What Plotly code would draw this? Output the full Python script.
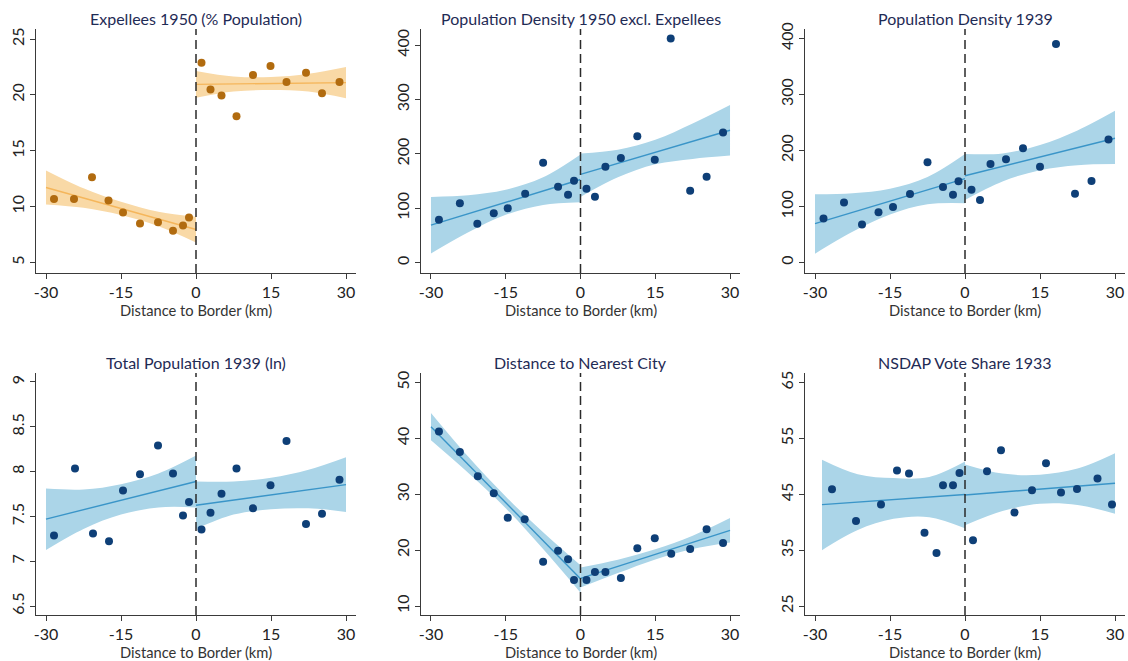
import plotly.graph_objects as go

W, H = 1128, 661

# ---------------- data ----------------
titles = ["Expellees 1950 (% Population)", "Population Density 1950 excl. Expellees",
          "Population Density 1939", "Total Population 1939 (ln)",
          "Distance to Nearest City", "NSDAP Vote Share 1933"]
x_title = "Distance to Border (km)"
x_ticks = [-30, -15, 0, 15, 30]
x_ticklabels = ["-30", "-15", "0", "15", "30"]

# Panel 1: Expellees 1950
p1_x = [-28.4, -24.4, -20.8, -17.5, -14.6, -11.2, -7.6, -4.6, -2.6, -1.4,
        1.1, 2.9, 5.1, 8.1, 11.4, 14.9, 18.1, 22.0, 25.2, 28.7]
p1_y = [10.7, 10.7, 12.64, 10.55, 9.48, 8.49, 8.61, 7.84, 8.31, 9.03,
        22.88, 20.49, 19.96, 18.1, 21.78, 22.6, 21.15, 21.99, 20.16, 21.15]
p1_band_xl = [-30, -22.5, -15, -7.5, 0]
p1_band_xr = [0, 7.5, 15, 22.5, 30]
p1_fit_l = [11.72, 7.96]
p1_fit_r = [20.95, 21.1]
p1_up_l = [13.25, 11.65, 10.45, 9.55, 9.1]
p1_lo_l = [10.2, 9.9, 9.25, 8.25, 6.8]
p1_up_r = [22.15, 21.65, 21.6, 21.9, 22.5]
p1_lo_r = [19.75, 20.3, 20.45, 20.3, 19.7]
p1_yticks = [5, 10, 15, 20, 25]

# Panel 2: Population density 1950 excl. expellees
p2_x = [-28.4, -24.2, -20.7, -17.4, -14.6, -11.1, -7.5, -4.5, -2.5, -1.3,
        1.2, 2.9, 5.0, 8.1, 11.4, 14.9, 18.1, 22.0, 25.3, 28.6]
p2_y = [78.8, 109.5, 71.4, 91.0, 100.3, 126.8, 184.0, 139.7, 124.9, 150.8,
        136.0, 121.2, 176.6, 192.6, 232.6, 189.5, 412.3, 132.3, 158.2, 239.4]
p2_band_xl = [-30, -22.5, -15, -7.5, 0]
p2_band_xr = [0, 7.5, 15, 22.5, 30]
p2_fit_l = [69.0, 153.0]
p2_fit_r = [162.5, 243.7]
p2_up_l = [121.0, 124.0, 134.0, 157.0, 199.0]
p2_lo_l = [17.0, 56.0, 88.0, 106.0, 111.0]
p2_up_r = [201.0, 208.0, 226.0, 256.0, 290.0]
p2_lo_r = [121.0, 157.0, 181.0, 191.0, 197.0]
p2_yticks = [0, 100, 200, 300, 400]

# Panel 3: Population density 1939
p3_x = [-28.3, -24.2, -20.6, -17.3, -14.4, -11.0, -7.5, -4.4, -2.4, -1.3,
        1.3, 3.0, 5.1, 8.2, 11.6, 15.0, 18.2, 22.0, 25.3, 28.7]
p3_y = [78.8, 107.5, 68.1, 90.1, 99.1, 122.4, 179.1, 134.9, 121.2, 145.1,
        130.1, 111.6, 176.1, 184.5, 204.2, 171.3, 390.4, 123.0, 145.7, 219.7]
p3_band_xl = [-30, -22.5, -15, -7.5, 0]
p3_band_xr = [0, 7.5, 15, 22.5, 30]
p3_fit_l = [69.5, 150.0]
p3_fit_r = [155.0, 222.0]
p3_up_l = [122.0, 124.0, 132.0, 153.0, 194.0]
p3_lo_l = [16.0, 55.0, 86.0, 104.0, 106.0]
p3_up_r = [194.0, 195.0, 210.0, 236.0, 271.0]
p3_lo_r = [112.0, 145.0, 165.0, 174.0, 176.0]
p3_yticks = [0, 100, 200, 300, 400]

# Panel 4: Total population 1939 (ln)
p4_x = [-28.4, -24.2, -20.6, -17.4, -14.6, -11.2, -7.6, -4.6, -2.6, -1.4,
        1.1, 2.9, 5.1, 8.1, 11.4, 14.9, 18.1, 22.0, 25.2, 28.7]
p4_y = [7.287, 8.034, 7.31, 7.224, 7.79, 7.97, 8.29, 7.98, 7.51, 7.66,
        7.355, 7.54, 7.754, 8.034, 7.59, 7.847, 8.34, 7.414, 7.53, 7.91]
p4_band_xl = [-30, -22.5, -15, -7.5, 0]
p4_band_xr = [0, 7.5, 15, 22.5, 30]
p4_fit_l = [7.47, 7.89]
p4_fit_r = [7.625, 7.855]
p4_up_l = [7.81, 7.80, 7.86, 7.98, 8.18]
p4_lo_l = [7.125, 7.36, 7.52, 7.6, 7.6]
p4_up_r = [7.89, 7.89, 7.93, 8.02, 8.16]
p4_lo_r = [7.36, 7.52, 7.58, 7.59, 7.55]
p4_yticks = [6.5, 7, 7.5, 8, 8.5, 9]
p4_yticklabels = ["6.5", "7", "7.5", "8", "8.5", "9"]

# Panel 5: Distance to nearest city
p5_x = [-28.4, -24.2, -20.6, -17.4, -14.6, -11.2, -7.5, -4.5, -2.5, -1.3,
        1.2, 2.9, 5.0, 8.1, 11.4, 14.9, 18.2, 22.0, 25.3, 28.6]
p5_y = [41.22, 37.58, 33.22, 30.18, 25.82, 25.52, 17.94, 19.91, 18.36, 14.66,
        14.66, 16.09, 16.09, 15.01, 20.33, 22.12, 19.37, 20.21, 23.73, 21.28]
p5_band_xl = [-30, -22.5, -15, -7.5, 0]
p5_band_xr = [0, 7.5, 15, 22.5, 30]
p5_fit_l = [42.1, 14.9]
p5_fit_r = [14.95, 23.55]
p5_up_l = [44.55, 36.7, 29.6, 23.2, 17.3]
p5_lo_l = [39.65, 33.8, 27.5, 20.2, 12.4]
p5_up_r = [16.9, 18.3, 20.15, 22.6, 25.75]
p5_lo_r = [13.3, 15.9, 18.35, 20.2, 21.35]
p5_yticks = [10, 20, 30, 40, 50]

# Panel 6: NSDAP vote share 1933
p6_x = [-26.6, -21.8, -16.8, -13.6, -11.2, -8.1, -5.7, -4.4, -2.4, -1.1,
        1.6, 4.4, 7.2, 9.9, 13.4, 16.2, 19.2, 22.4, 26.5, 29.4]
p6_y = [45.9, 40.22, 43.15, 49.24, 48.7, 38.13, 34.49, 46.61, 46.61, 48.82,
        36.76, 49.12, 52.88, 41.72, 45.72, 50.55, 45.3, 45.96, 47.81, 43.15]
p6_band_xl = [-28.6, -21.45, -14.3, -7.15, 0]
p6_band_xr = [0, 7.5, 15, 22.5, 30]
p6_fit_l = [43.15, 44.95]
p6_fit_r = [44.88, 46.97]
p6_up_l = [51.2, 48.6, 47.9, 48.1, 50.85]
p6_lo_l = [35.0, 38.6, 40.6, 40.9, 38.9]
p6_up_r = [50.35, 48.7, 48.5, 49.6, 52.35]
p6_lo_r = [39.45, 42.0, 43.3, 43.1, 41.5]
p6_yticks = [25, 35, 45, 55, 65]

y_ranges = [[4.07, 25.9], [-19, 430], [-18.5, 417], [6.4, 9.1], [8.4, 51.7], [23.4, 66.7]]

# ---------------- styles ----------------
FONT = "Lato"
NAVY = "#1f2b55"
AX = "#3a3a3a"
blue_style = dict(pt="#0e3f77", line="#3a95c8", band="#abd5e8")
orange_style = dict(pt="#b16b0f", line="#f5b65b", band="#f9d9a6")

# pixel layout of plot areas
cols_px = [(36, 356), (421, 740), (805, 1125)]
rows_px = [(29, 273), (373, 615)]

panels = [
    (p1_x, p1_y, p1_band_xl, p1_band_xr, p1_fit_l, p1_fit_r, p1_up_l, p1_lo_l, p1_up_r, p1_lo_r, p1_yticks, None, orange_style),
    (p2_x, p2_y, p2_band_xl, p2_band_xr, p2_fit_l, p2_fit_r, p2_up_l, p2_lo_l, p2_up_r, p2_lo_r, p2_yticks, None, blue_style),
    (p3_x, p3_y, p3_band_xl, p3_band_xr, p3_fit_l, p3_fit_r, p3_up_l, p3_lo_l, p3_up_r, p3_lo_r, p3_yticks, None, blue_style),
    (p4_x, p4_y, p4_band_xl, p4_band_xr, p4_fit_l, p4_fit_r, p4_up_l, p4_lo_l, p4_up_r, p4_lo_r, p4_yticks, p4_yticklabels, blue_style),
    (p5_x, p5_y, p5_band_xl, p5_band_xr, p5_fit_l, p5_fit_r, p5_up_l, p5_lo_l, p5_up_r, p5_lo_r, p5_yticks, None, blue_style),
    (p6_x, p6_y, p6_band_xl, p6_band_xr, p6_fit_l, p6_fit_r, p6_up_l, p6_lo_l, p6_up_r, p6_lo_r, p6_yticks, None, blue_style),
]

fig = go.Figure()
layout = dict(width=W, height=H, margin=dict(l=0, r=0, t=0, b=0),
              paper_bgcolor="white", plot_bgcolor="white", showlegend=False,
              font=dict(family=FONT, size=14, color="#222"))
annotations = []
shapes = []

for i, (px, py, bxl, bxr, fl, fr, ul, ll, ur, lr, yt, ytl, st) in enumerate(panels):
    r, c = divmod(i, 3)
    x0, x1 = cols_px[c]
    y0, y1 = rows_px[r]
    n = "" if i == 0 else str(i + 1)
    xa, ya = "x" + n, "y" + n
    layout["xaxis" + n] = dict(
        domain=[x0 / W, x1 / W], anchor=ya, range=[-32, 32],
        tickvals=x_ticks, ticktext=x_ticklabels, ticks="outside", ticklen=5,
        tickwidth=1.2, tickcolor=AX, showline=True, linecolor=AX, linewidth=1.2,
        showgrid=False, zeroline=False, automargin=False,
        tickfont=dict(family=FONT, size=16, color="#222"), fixedrange=True)
    layout["yaxis" + n] = dict(
        domain=[1 - y1 / H, 1 - y0 / H], anchor=xa, range=y_ranges[i],
        tickvals=yt, ticktext=ytl if ytl else [str(v) for v in yt],
        ticks="outside", ticklen=5, tickwidth=1.2, tickcolor=AX, tickangle=-90,
        showline=True, linecolor=AX, linewidth=1.2, showgrid=False,
        zeroline=False, automargin=False,
        tickfont=dict(family=FONT, size=16, color="#222"), fixedrange=True)

    for bx, lo, up, fit in ((bxl, ll, ul, fl), (bxr, lr, ur, fr)):
        fig.add_trace(go.Scatter(x=bx, y=lo, mode="lines", line=dict(width=0, shape="spline"),
                                 xaxis=xa, yaxis=ya, hoverinfo="skip"))
        fig.add_trace(go.Scatter(x=bx, y=up, mode="lines", line=dict(width=0, shape="spline"),
                                 fill="tonexty", fillcolor=st["band"],
                                 xaxis=xa, yaxis=ya, hoverinfo="skip"))
        fig.add_trace(go.Scatter(x=[bx[0], bx[-1]], y=fit, mode="lines",
                                 line=dict(color=st["line"], width=1.4),
                                 xaxis=xa, yaxis=ya, hoverinfo="skip"))
    fig.add_trace(go.Scatter(x=px, y=py, mode="markers",
                             marker=dict(color=st["pt"], size=8, line=dict(width=0)),
                             xaxis=xa, yaxis=ya))

    shapes.append(dict(type="line", xref=xa, yref=ya + " domain", x0=0, x1=0, y0=0, y1=1,
                       line=dict(color="#2a2a2a", width=1.5, dash="9px,5px"), layer="above"))

    cx = (x0 + x1) / 2 / W
    annotations.append(dict(text=titles[i], xref="paper", yref="paper", x=cx,
                            y=1 - (y0 - 11) / H, xanchor="center", yanchor="middle",
                            showarrow=False, font=dict(family=FONT, size=16, color=NAVY)))
    annotations.append(dict(text=x_title, xref="paper", yref="paper", x=cx,
                            y=1 - (y1 + 37) / H, xanchor="center", yanchor="middle",
                            showarrow=False, font=dict(family=FONT, size=14.7, color="#333")))

layout["annotations"] = annotations
layout["shapes"] = shapes
fig.update_layout(**layout)
fig.write_html("out.html", config={"displayModeBar": False},
               post_script="document.body.style.margin='0';document.body.style.overflow='hidden';")
